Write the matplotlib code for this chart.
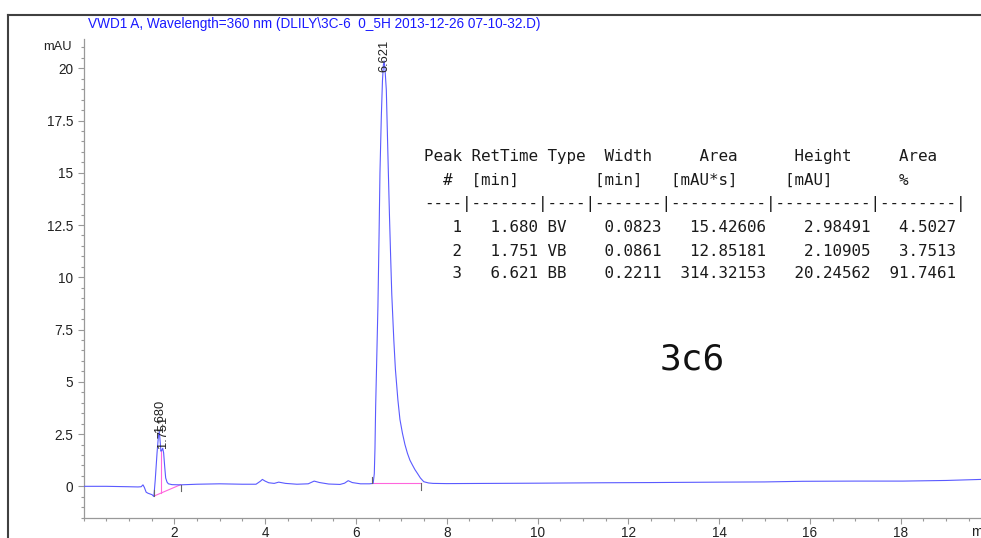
import matplotlib
matplotlib.use('Agg')
import matplotlib.pyplot as plt
from matplotlib.ticker import MultipleLocator, FixedLocator, FuncFormatter
from matplotlib.lines import Line2D

# ---------------- data ----------------
time_min = [0.0, 0.5, 1.0, 1.2, 1.27, 1.31, 1.34, 1.38, 1.42, 1.47, 1.51, 1.55,
            1.58, 1.62, 1.65, 1.67, 1.69, 1.705, 1.725, 1.745, 1.765, 1.79, 1.81,
            1.84, 1.87, 1.95, 2.13, 2.5, 3.0, 3.5, 3.8, 3.9, 3.94, 4.0, 4.08,
            4.2, 4.3, 4.45, 4.7, 4.95, 5.08, 5.2, 5.4, 5.65, 5.75, 5.83, 5.92,
            6.1, 6.3, 6.38, 6.405, 6.42, 6.435, 6.46, 6.485, 6.51, 6.53, 6.56,
            6.585, 6.605, 6.621, 6.64, 6.67, 6.69, 6.715, 6.74, 6.765, 6.79,
            6.835, 6.87, 6.925, 6.97, 7.025, 7.08, 7.135, 7.19, 7.245, 7.3,
            7.355, 7.42, 7.495, 7.6, 7.7, 8.0,
            9.0, 10.0, 11.4, 12.5, 14.0, 15.0, 15.84, 17.0, 18.05, 19.0, 19.77]
signal_mau = [0.0, 0.0, -0.02, -0.03, -0.02, 0.07, -0.05, -0.28, -0.33, -0.37, -0.4, -0.49,
              0.3, 1.6, 2.4, 2.62, 2.1, 1.68, 1.72, 1.82, 1.6, 0.9, 0.4,
              0.2, 0.12, 0.08, 0.07, 0.1, 0.12, 0.1, 0.1, 0.25, 0.33, 0.25, 0.17,
              0.14, 0.2, 0.14, 0.1, 0.12, 0.25, 0.18, 0.11, 0.09, 0.15, 0.27, 0.18,
              0.12, 0.12, 0.14, 0.6, 1.8, 3.8, 6.2, 8.6, 12.0, 15.0, 17.7,
              19.4, 20.15, 20.35, 20.0, 18.96, 17.2, 15.0, 12.9, 11.0, 9.2,
              7.0, 5.6, 4.13, 3.2, 2.54, 2.0, 1.58, 1.25, 1.02, 0.8,
              0.62, 0.4, 0.22, 0.16, 0.14, 0.13,
              0.14, 0.15, 0.17, 0.18, 0.2, 0.21, 0.24, 0.25, 0.25, 0.28, 0.33]

peak_num = [1, 2, 3]
peak_rt = [1.680, 1.751, 6.621]
peak_type = ['BV', 'VB', 'BB']
peak_width = [0.0823, 0.0861, 0.2211]
peak_area = [15.42606, 12.85181, 314.32153]
peak_height = [2.98491, 2.10905, 20.24562]
peak_area_pct = [4.5027, 3.7513, 91.7461]
peak_label_y = [2.6, 1.82, 19.8]

# integration baselines (start t, start y, end t, end y)
base_t0 = [1.56, 6.35]
base_y0 = [-0.46, 0.14]
base_t1 = [2.14, 7.43]
base_y1 = [0.08, 0.14]
drop_t = [1.70]
drop_y0 = [-0.33]
drop_y1 = [1.68]

title = r"VWD1 A, Wavelength=360 nm (DLILY\3C-6  0_5H 2013-12-26 07-10-32.D)"
sample_name = "3c6"

# ---------------- figure ----------------
W, H = 981, 538
fig = plt.figure(figsize=(W / 100, H / 100), dpi=100)
fig.patch.set_facecolor('white')

ax_left, ax_bottom_px, ax_top_px = 83.5, 518.3, 39.0
ax = fig.add_axes([ax_left / W, 1 - ax_bottom_px / H, 1 - ax_left / W,
                   (ax_bottom_px - ax_top_px) / H])

ax.plot(time_min, signal_mau, color='#5a5aff', lw=0.8, zorder=3)

for t0, y0, t1, y1 in zip(base_t0, base_y0, base_t1, base_y1):
    ax.plot([t0, t1], [y0, y1], color='#ff66dd', lw=0.8, zorder=2)
for t, y0, y1 in zip(drop_t, drop_y0, drop_y1):
    ax.plot([t, t], [y0, y1], color='#ff66dd', lw=0.8, zorder=2)
# start / end marks of the integration
for t0, y0 in zip(base_t0, base_y0):
    ax.plot([t0, t0], [y0, y0 + 0.3], color='#666666', lw=0.8, zorder=4)
for t1, y1 in zip(base_t1, base_y1):
    ax.plot([t1, t1], [y1, y1 - 0.3], color='#666666', lw=0.8, zorder=4)

for rt, ly in zip(peak_rt, peak_label_y):
    ax.text(rt, ly, f"{rt:.3f}", rotation=90, ha='center', va='bottom',
            fontsize=9.3, family='Liberation Sans', color='#222222', zorder=5)

ax.set_xlim(0, (W - ax_left) / 45.4)
ax.set_ylim(-1.53, 21.4)

for s in ['top', 'right']:
    ax.spines[s].set_visible(False)
for s in ['left', 'bottom']:
    ax.spines[s].set_color('#999999')
    ax.spines[s].set_linewidth(0.9)

ax.xaxis.set_major_locator(FixedLocator(list(range(2, 20, 2))))
ax.xaxis.set_minor_locator(MultipleLocator(0.5))
ax.yaxis.set_major_locator(MultipleLocator(2.5))
ax.yaxis.set_minor_locator(MultipleLocator(0.5))
ax.yaxis.set_major_formatter(FuncFormatter(lambda v, p: f"{v:g}"))
ax.tick_params(axis='both', which='major', direction='out', length=4.3,
               width=0.8, color='#999999', labelsize=9.8, labelcolor='#222222')
ax.tick_params(axis='both', which='minor', direction='out', length=2.0,
               width=0.8, color='#999999')
ax.tick_params(axis='y', which='major', pad=3)
ax.tick_params(axis='x', which='major', pad=1.5)
for lab in ax.get_xticklabels() + ax.get_yticklabels():
    lab.set_family('Liberation Sans')

fig.text(71.7 / W, 1 - 47 / H, 'mAU', ha='right', va='center', fontsize=9.3,
         family='Liberation Sans', color='#222222')
fig.text(971 / W, 1 - 532 / H, 'min', ha='left', va='center', fontsize=9.8,
         family='Liberation Sans', color='#222222')
fig.text(88 / W, 1 - 24 / H, title, ha='left', va='center', fontsize=9.8,
         family='Liberation Sans', color='#1a1aff')

# frame of the report
fig.add_artist(Line2D([8 / W, 1.0], [1 - 14.7 / H, 1 - 14.7 / H],
                      transform=fig.transFigure, color='#404040', lw=1.5))
fig.add_artist(Line2D([8.3 / W, 8.3 / W], [0, 1 - 14.7 / H],
                      transform=fig.transFigure, color='#404040', lw=1.5))

# peak table
header1 = "Peak RetTime Type  Width     Area      Height     Area"
header2 = "  #  [min]        [min]   [mAU*s]     [mAU]       %"
sep = "----|-------|----|-------|----------|----------|--------|"
rows = [f"{n:>4} {rt:>7.3f} {tp:<4} {w:>7.4f} {a:>10.5f} {h:>10.5f} {pc:>8.4f}"
        for n, rt, tp, w, a, h, pc in zip(peak_num, peak_rt, peak_type, peak_width,
                                         peak_area, peak_height, peak_area_pct)]
lines = [header1, header2, sep] + rows
line_y = [157, 180.5, 204, 228, 251, 274]
for txt, yy in zip(lines, line_y):
    fig.text(424.5 / W, 1 - yy / H, txt, ha='left', va='center', fontsize=11.4,
             family='DejaVu Sans Mono', color='#1a1a1a')

fig.text(692 / W, 1 - 359 / H, sample_name, ha='center', va='center', fontsize=26,
         family='DejaVu Sans Mono', color='#111111')

fig.savefig('out.png', dpi=100, facecolor='white')
